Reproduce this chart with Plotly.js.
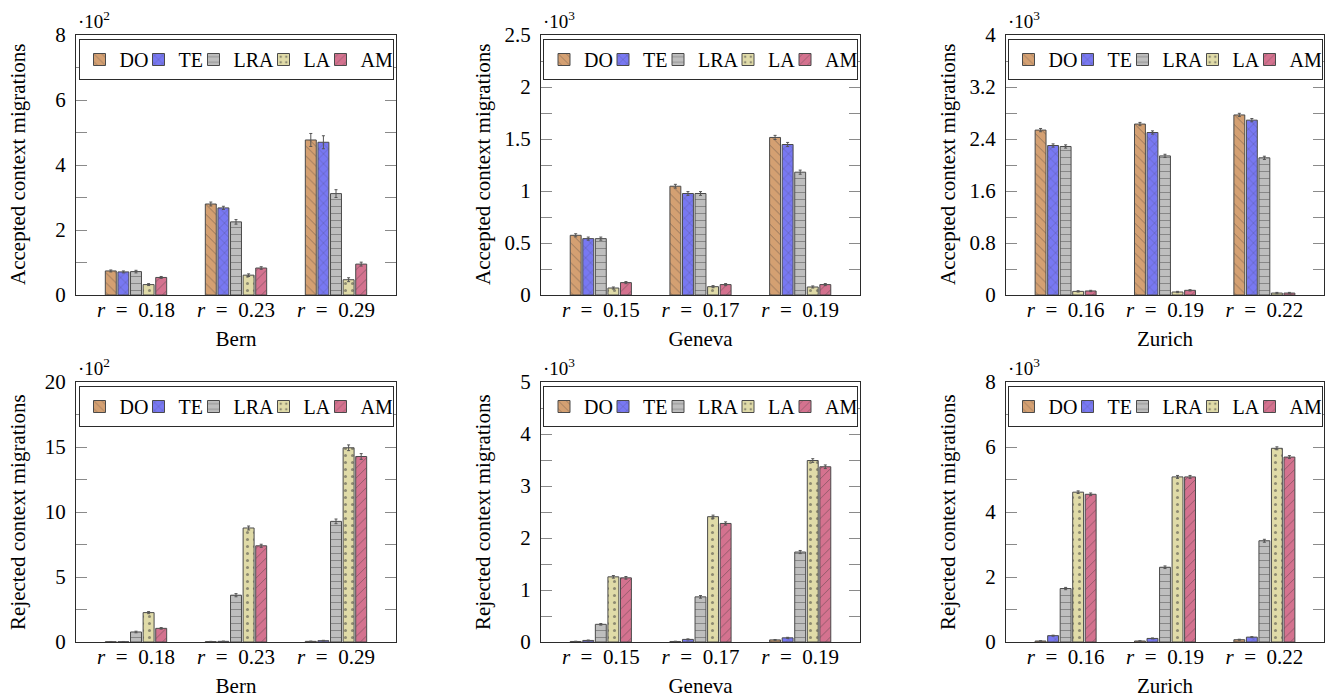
<!DOCTYPE html>
<html>
<head>
<meta charset="utf-8">
<script src="https://cdn.plot.ly/plotly-3.0.1.min.js"></script>
<style>html,body{margin:0;padding:0;background:#fff;}#chart{width:1325px;height:698px;}</style>
</head>
<body>
<div id="chart"></div>
<script>
// ---------- data ----------
const methods = ['DO', 'TE', 'LRA', 'LA', 'AM'];

const bernRatios   = ['<i>r</i>\u2002=\u20020.18', '<i>r</i>\u2002=\u20020.23', '<i>r</i>\u2002=\u20020.29'];
const genevaRatios = ['<i>r</i>\u2002=\u20020.15', '<i>r</i>\u2002=\u20020.17', '<i>r</i>\u2002=\u20020.19'];
const zurichRatios = ['<i>r</i>\u2002=\u20020.16', '<i>r</i>\u2002=\u20020.19', '<i>r</i>\u2002=\u20020.22'];

// Accepted context migrations, Bern (x10^2)
const bernAccDO  = [0.74, 2.80, 4.77];
const bernAccTE  = [0.71, 2.68, 4.70];
const bernAccLRA = [0.72, 2.25, 3.12];
const bernAccLA  = [0.32, 0.61, 0.47];
const bernAccAM  = [0.54, 0.83, 0.95];
const bernAccErrDO  = [0.03, 0.06, 0.20];
const bernAccErrTE  = [0.03, 0.05, 0.20];
const bernAccErrLRA = [0.04, 0.07, 0.12];
const bernAccErrLA  = [0.03, 0.04, 0.06];
const bernAccErrAM  = [0.03, 0.04, 0.06];

// Accepted context migrations, Geneva (x10^3)
const genAccDO  = [0.574, 1.046, 1.515];
const genAccTE  = [0.542, 0.976, 1.447];
const genAccLRA = [0.542, 0.976, 1.181];
const genAccLA  = [0.067, 0.080, 0.077];
const genAccAM  = [0.119, 0.100, 0.100];
const genAccErrDO  = [0.015, 0.018, 0.020];
const genAccErrTE  = [0.015, 0.018, 0.020];
const genAccErrLRA = [0.015, 0.018, 0.020];
const genAccErrLA  = [0.010, 0.010, 0.010];
const genAccErrAM  = [0.010, 0.010, 0.010];

// Accepted context migrations, Zurich (x10^3)
const zurAccDO  = [2.537, 2.630, 2.770];
const zurAccTE  = [2.300, 2.500, 2.690];
const zurAccLRA = [2.285, 2.140, 2.110];
const zurAccLA  = [0.056, 0.046, 0.030];
const zurAccAM  = [0.062, 0.072, 0.030];
const zurAccErrDO  = [0.025, 0.025, 0.025];
const zurAccErrTE  = [0.025, 0.025, 0.025];
const zurAccErrLRA = [0.025, 0.025, 0.025];
const zurAccErrLA  = [0.010, 0.010, 0.010];
const zurAccErrAM  = [0.010, 0.010, 0.010];

// Rejected context migrations, Bern (x10^2)
const bernRejDO  = [0.02, 0.03, 0.05];
const bernRejTE  = [0.02, 0.05, 0.10];
const bernRejLRA = [0.77, 3.60, 9.28];
const bernRejLA  = [2.26, 8.77, 14.94];
const bernRejAM  = [1.05, 7.40, 14.27];
const bernRejErrDO  = [0.02, 0.02, 0.02];
const bernRejErrTE  = [0.02, 0.02, 0.03];
const bernRejErrLRA = [0.06, 0.12, 0.18];
const bernRejErrLA  = [0.08, 0.15, 0.22];
const bernRejErrAM  = [0.06, 0.12, 0.22];

// Rejected context migrations, Geneva (x10^3)
const genRejDO  = [0.010, 0.010, 0.040];
const genRejTE  = [0.030, 0.050, 0.080];
const genRejLRA = [0.340, 0.868, 1.730];
const genRejLA  = [1.253, 2.410, 3.490];
const genRejAM  = [1.234, 2.280, 3.370];
const genRejErrDO  = [0.005, 0.005, 0.008];
const genRejErrTE  = [0.008, 0.010, 0.010];
const genRejErrLRA = [0.015, 0.025, 0.030];
const genRejErrLA  = [0.025, 0.030, 0.035];
const genRejErrAM  = [0.025, 0.030, 0.035];

// Rejected context migrations, Zurich (x10^3)
const zurRejDO  = [0.030, 0.030, 0.070];
const zurRejTE  = [0.195, 0.110, 0.150];
const zurRejLRA = [1.645, 2.300, 3.115];
const zurRejLA  = [4.610, 5.080, 5.960];
const zurRejAM  = [4.545, 5.080, 5.690];
const zurRejErrDO  = [0.010, 0.010, 0.015];
const zurRejErrTE  = [0.015, 0.015, 0.015];
const zurRejErrLRA = [0.035, 0.040, 0.045];
const zurRejErrLA  = [0.040, 0.045, 0.045];
const zurRejErrAM  = [0.040, 0.045, 0.045];

// ---------- styles ----------
const colors   = ['#D4A072', '#7878F2', '#BEBEBE', '#E0DBA8', '#D4728F'];
const patterns = ['\\', 'x', '-', '.', '/'];
// legend entry widths (px), tightened so each legend box stays inside its plot
const legendWidths = [14, 10, 25, 12, 27];

const panels = [
  {cats: bernRatios,   title: 'Bern',   ytitle: 'Accepted context migrations', exp: '2', range: [0, 8],   dtick: 2,   minor: 1,
   vals: [bernAccDO, bernAccTE, bernAccLRA, bernAccLA, bernAccAM], errs: [bernAccErrDO, bernAccErrTE, bernAccErrLRA, bernAccErrLA, bernAccErrAM]},
  {cats: genevaRatios, title: 'Geneva', ytitle: 'Accepted context migrations', exp: '3', range: [0, 2.5], dtick: 0.5, minor: 0.25,
   vals: [genAccDO, genAccTE, genAccLRA, genAccLA, genAccAM], errs: [genAccErrDO, genAccErrTE, genAccErrLRA, genAccErrLA, genAccErrAM]},
  {cats: zurichRatios, title: 'Zurich', ytitle: 'Accepted context migrations', exp: '3', range: [0, 4],   dtick: 0.8, minor: 0.4,
   vals: [zurAccDO, zurAccTE, zurAccLRA, zurAccLA, zurAccAM], errs: [zurAccErrDO, zurAccErrTE, zurAccErrLRA, zurAccErrLA, zurAccErrAM]},
  {cats: bernRatios,   title: 'Bern',   ytitle: 'Rejected context migrations', exp: '2', range: [0, 20],  dtick: 5,   minor: 2.5,
   vals: [bernRejDO, bernRejTE, bernRejLRA, bernRejLA, bernRejAM], errs: [bernRejErrDO, bernRejErrTE, bernRejErrLRA, bernRejErrLA, bernRejErrAM]},
  {cats: genevaRatios, title: 'Geneva', ytitle: 'Rejected context migrations', exp: '3', range: [0, 5],   dtick: 1,   minor: 0.5,
   vals: [genRejDO, genRejTE, genRejLRA, genRejLA, genRejAM], errs: [genRejErrDO, genRejErrTE, genRejErrLRA, genRejErrLA, genRejErrAM]},
  {cats: zurichRatios, title: 'Zurich', ytitle: 'Rejected context migrations', exp: '3', range: [0, 8],   dtick: 2,   minor: 1,
   vals: [zurRejDO, zurRejTE, zurRejLRA, zurRejLA, zurRejAM], errs: [zurRejErrDO, zurRejErrTE, zurRejErrLRA, zurRejErrLA, zurRejErrAM]}
];

// pixel geometry of the plot areas
const W = 1325, H = 698;
const colsPx = [[76, 396], [541, 860], [1006, 1324]];
const rowsPx = [[35, 295], [382, 642]];

const FONT = 'Liberation Serif';
const traces = [];
const layout = {
  width: W, height: H,
  margin: {l: 0, r: 0, t: 0, b: 0},
  paper_bgcolor: '#fff', plot_bgcolor: '#fff',
  font: {family: FONT, size: 21, color: '#000'},
  barmode: 'group', bargap: 0.37, bargroupgap: 0.13,
  annotations: [],
  showlegend: true
};

panels.forEach((p, i) => {
  const n = i + 1;
  const xid = n === 1 ? 'x' : 'x' + n;
  const yid = n === 1 ? 'y' : 'y' + n;
  const legId = n === 1 ? 'legend' : 'legend' + n;
  const col = colsPx[i % 3], row = rowsPx[Math.floor(i / 3)];

  methods.forEach((m, k) => {
    traces.push({
      type: 'bar', name: m, x: p.cats, y: p.vals[k],
      xaxis: xid, yaxis: yid, legend: legId, showlegend: true,
      legendwidth: legendWidths[k],
      marker: {color: colors[k], line: {color: '#4a4a4a', width: 1},
               pattern: {shape: patterns[k], bgcolor: colors[k], fgcolor: '#3a3a3a', fgopacity: 0.5,
                         size: 7, solidity: k === 3 ? 0.15 : 0.12}},
      error_y: {type: 'data', array: p.errs[k], visible: true, color: '#555', thickness: 1, width: 1.5},
      hoverinfo: 'x+y+name'
    });
  });

  layout['xaxis' + (n === 1 ? '' : n)] = {
    domain: [col[0] / W, col[1] / W], anchor: yid,
    type: 'category', range: [-0.6, 2.6], fixedrange: true,
    showline: true, linecolor: '#2b2b2b', linewidth: 1, mirror: true,
    ticks: '', showgrid: false, zeroline: false,
    tickfont: {family: FONT, size: 21}, ticklabelstandoff: -4,
    title: {text: p.title, font: {family: FONT, size: 21}, standoff: 10}
  };
  layout['yaxis' + (n === 1 ? '' : n)] = {
    domain: [1 - row[1] / H, 1 - row[0] / H], anchor: xid,
    range: p.range, dtick: p.dtick, tick0: 0, fixedrange: true,
    showline: true, linecolor: '#2b2b2b', linewidth: 1, mirror: 'ticks',
    ticks: 'inside', ticklen: 11, tickcolor: '#8a8a8a', tickwidth: 1,
    minor: {dtick: p.minor, ticks: 'inside', ticklen: 11, tickcolor: '#8a8a8a', tickwidth: 1, showgrid: false},
    showgrid: false, zeroline: false,
    tickfont: {family: FONT, size: 21}, ticklabelstandoff: 5
  };

  // y-axis title at a fixed distance left of the axis line, as in the reference
  layout.annotations.push({
    xref: xid + ' domain', yref: yid + ' domain', x: 0, y: 0.5,
    xanchor: 'center', yanchor: 'middle', xshift: -58, textangle: -90, showarrow: false,
    text: p.ytitle, font: {family: FONT, size: 21, color: '#000'}
  });

  layout[legId] = {
    orientation: 'h', xref: 'paper', yref: 'paper',
    x: (col[0] + col[1]) / 2 / W, xanchor: 'center',
    y: 1 - (row[0] + 4) / H, yanchor: 'top',
    bgcolor: '#fff', bordercolor: '#2b2b2b', borderwidth: 1,
    font: {family: FONT, size: 20, color: '#000'},
    itemwidth: 30, itemclick: false, itemdoubleclick: false
  };

  // scale factor label above the y axis
  layout.annotations.push({
    xref: xid + ' domain', yref: yid + ' domain', x: 0, y: 1,
    xanchor: 'left', yanchor: 'bottom', showarrow: false, yshift: 1,
    text: '\u00b710<sup>' + p.exp + '</sup>', font: {family: FONT, size: 19, color: '#000'}
  });
});

Plotly.newPlot('chart', traces, layout, {displayModeBar: false, staticPlot: true});
</script>
</body>
</html>
